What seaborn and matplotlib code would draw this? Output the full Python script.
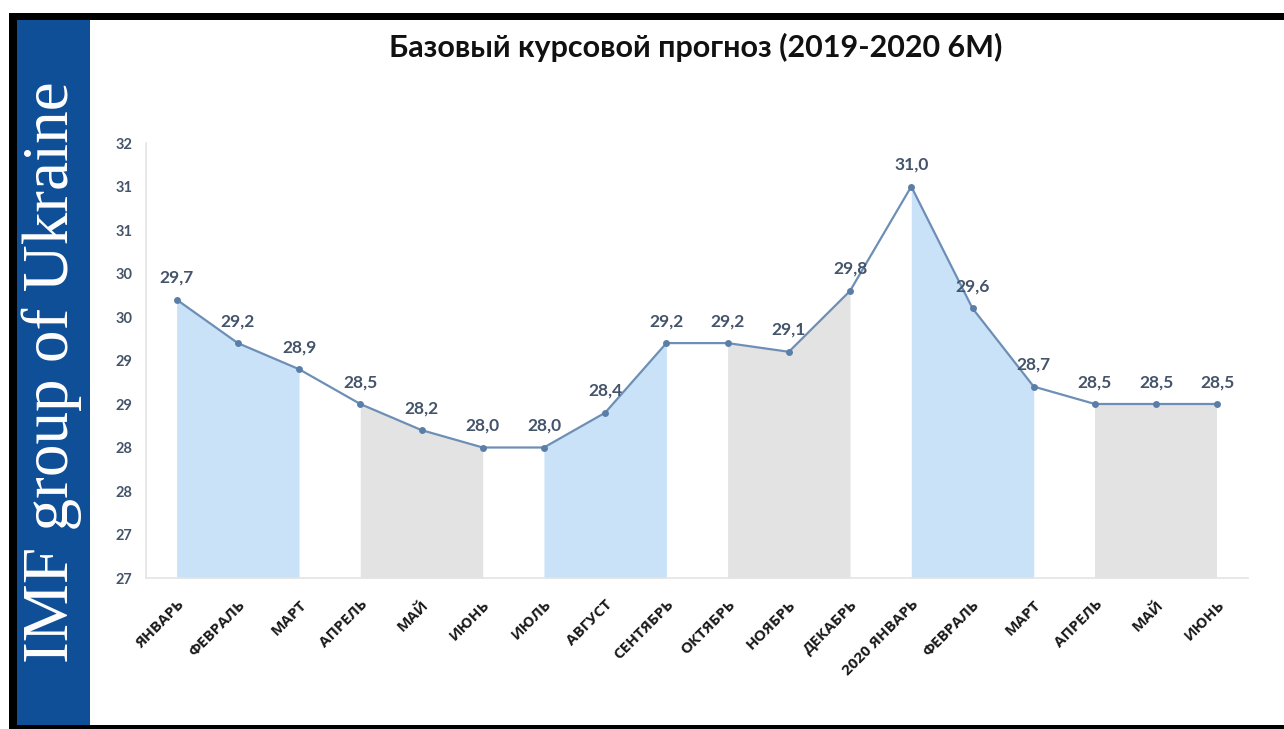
import math
import matplotlib
matplotlib.use("Agg")
import matplotlib.pyplot as plt
from matplotlib.patches import Rectangle
import numpy as np
import pandas as pd
import seaborn as sns

months = ["ЯНВАРЬ", "ФЕВРАЛЬ", "МАРТ", "АПРЕЛЬ", "МАЙ", "ИЮНЬ", "ИЮЛЬ", "АВГУСТ",
          "СЕНТЯБРЬ", "ОКТЯБРЬ", "НОЯБРЬ", "ДЕКАБРЬ", "2020 ЯНВАРЬ", "ФЕВРАЛЬ",
          "МАРТ", "АПРЕЛЬ", "МАЙ", "ИЮНЬ"]
rate = [29.7, 29.2, 28.9, 28.5, 28.2, 28.0, 28.0, 28.4, 29.2, 29.2, 29.1, 29.8,
        31.0, 29.6, 28.7, 28.5, 28.5, 28.5]
# shaded quarters: (first month index, last month index, kind)
quarters = [(0, 2, "blue"), (3, 5, "grey"), (6, 8, "blue"), (9, 11, "grey"),
            (12, 14, "blue"), (15, 17, "grey")]
y_ticks = [26.5, 27.0, 27.5, 28.0, 28.5, 29.0, 29.5, 30.0, 30.5, 31.0, 31.5]
title = "Базовый курсовой прогноз (2019-2020 6М)"
side_text = "IMF group of Ukraine"

sns.set_theme(style="white")
plt.rcParams["font.family"] = ["Lato", "Open Sans", "DejaVu Sans"]

df = pd.DataFrame({"x": np.arange(len(months)), "rate": rate})

W, H = 1284, 729
fig = plt.figure(figsize=(W / 100, H / 100), dpi=100)
fig.patch.set_facecolor("white")

# frame: black border and blue side band
fig.patches.append(Rectangle((9 / W, 0), (1284 - 9) / W, 1 - 13 / H, transform=fig.transFigure,
                             facecolor="black", edgecolor="none", zorder=0))
fig.patches.append(Rectangle((17 / W, 4 / H), (1284 - 17) / W, 1 - 24 / H, transform=fig.transFigure,
                             facecolor="white", edgecolor="none", zorder=0))
fig.patches.append(Rectangle((17 / W, 4 / H), (90 - 17) / W, 1 - 24 / H, transform=fig.transFigure,
                             facecolor="#0e4f97", edgecolor="none", zorder=1))
fig.text(52 / W, 1 - 372 / H, side_text, rotation=90, ha="center", va="center",
         color="white", fontsize=47, family=["Liberation Serif", "DejaVu Serif"])

ax = fig.add_axes([146 / W, 1 - 578 / H, (1248 - 146) / W, (578 - 143) / H])
ax.set_zorder(5)
ax.set_facecolor("white")

colors = {"blue": "#c9e2f8", "grey": "#e3e3e3"}
for a, b, kind in quarters:
    xs = df["x"].iloc[a:b + 1]
    ys = df["rate"].iloc[a:b + 1]
    ax.fill_between(xs, ys, y_ticks[0], color=colors[kind], linewidth=0, zorder=1)

sns.lineplot(data=df, x="x", y="rate", ax=ax, color="#6d8fb5", linewidth=1.6,
             marker="o", markersize=5, markeredgewidth=0, markerfacecolor="#5b7ea8",
             zorder=3)

for xi, v in zip(df["x"], df["rate"]):
    ax.annotate(f"{v:.1f}".replace(".", ","), (xi, v), xytext=(0, 10),
                textcoords="offset points", ha="center", va="bottom",
                fontsize=12.5, fontweight="bold", color="#44546a", zorder=4)

ax.set_xlim(-0.5, len(months) - 0.5)
ax.set_ylim(y_ticks[0], y_ticks[-1])
ax.set_yticks(y_ticks)
ax.set_yticklabels([str(int(math.floor(t + 0.5))) for t in y_ticks],
                   fontsize=10.5, fontweight="bold", color="#44546a")
ax.set_xticks(df["x"])
ax.set_xticklabels(months, rotation=45, ha="right", rotation_mode="anchor",
                   fontsize=11, fontweight="bold", color="#1a1a1a",
                   family=["Open Sans", "DejaVu Sans"])
ax.tick_params(axis="y", length=0, pad=10)
ax.tick_params(axis="x", length=0, pad=14)
ax.set_xlabel("")
ax.set_ylabel("")
for side in ["top", "right"]:
    ax.spines[side].set_visible(False)
for side in ["left", "bottom"]:
    ax.spines[side].set_color("#e4e4e4")
    ax.spines[side].set_linewidth(1.2)

fig.text(696 / W, 1 - 47 / H, title, ha="center", va="center",
         fontsize=22, fontweight="bold", color="#111111")

fig.savefig("out.png", dpi=100, facecolor=fig.get_facecolor())
